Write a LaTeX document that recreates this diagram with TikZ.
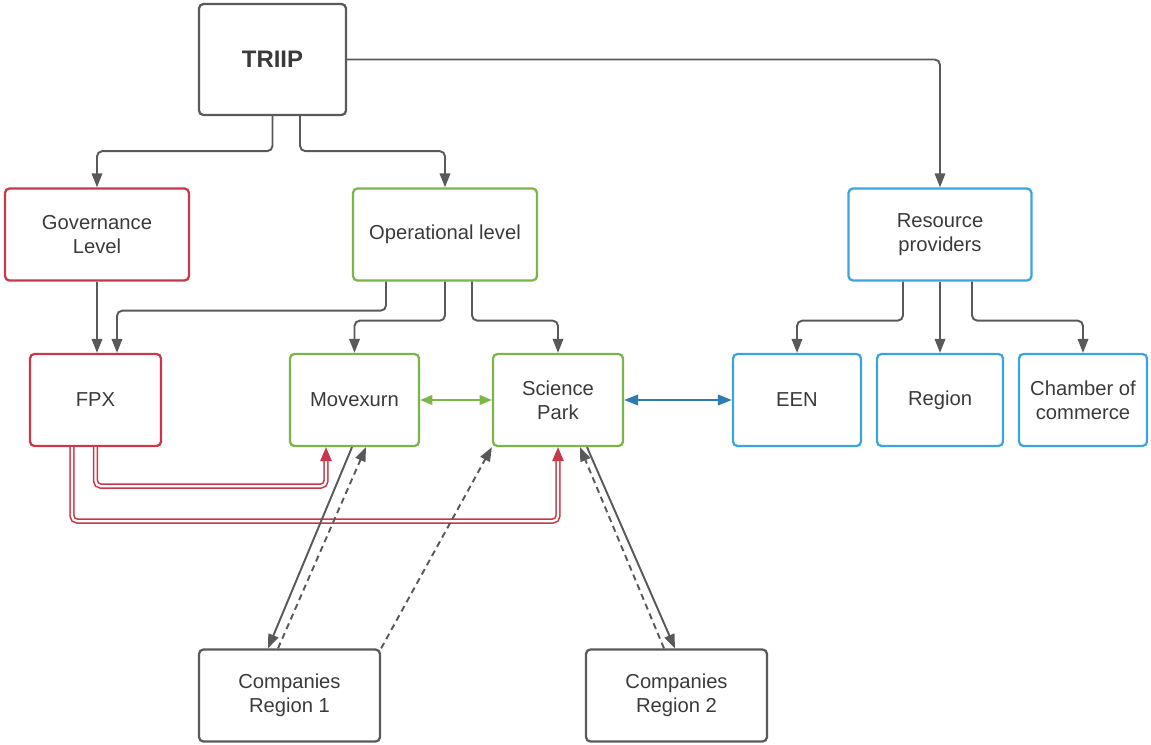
\documentclass[tikz,border=0pt]{standalone}
\usepackage{fontspec}
\setmainfont{Liberation Sans}
\usetikzlibrary{arrows.meta}
\definecolor{boxgrey}{HTML}{5A5A5A}
\definecolor{txtgrey}{HTML}{3A3A3A}
\definecolor{lucred}{HTML}{C8374A}
\definecolor{lucgreen}{HTML}{7AB648}
\definecolor{lucblue}{HTML}{3AA6DD}
\definecolor{arrblue}{HTML}{2F7BB5}
\definecolor{arrgrey}{HTML}{595959}

\begin{document}
\begin{tikzpicture}[x=0.02cm,y=-0.02cm,
  box/.style={draw, rounded corners=2.5pt, line width=1.3pt, align=center, text=txtgrey,
    font=\fontsize{11.5}{13.6}\selectfont, minimum width=2.64cm, minimum height=1.84cm, inner sep=1pt},
  greybox/.style={box, draw=boxgrey},
  redbox/.style={box, draw=lucred},
  greenbox/.style={box, draw=lucgreen},
  bluebox/.style={box, draw=lucblue},
  conn/.style={draw=arrgrey, line width=1.1pt, rounded corners=3pt, -{Triangle[length=8pt,width=6pt]}},
  dconn/.style={conn, dash pattern=on 3.5pt off 2.5pt},
  dbl/.style={draw=lucred, line width=0.9pt, double=white, double distance=1.3pt, rounded corners=3pt,
    -{Triangle[length=8pt,width=6.5pt]}}]
\useasboundingbox (0,0) rectangle (1151,744);
\node[greybox, minimum width=2.94cm, minimum height=2.22cm, font=\fontsize{13.6}{16}\selectfont\bfseries] (triip) at (272.5,59.5) {TRIIP};
\node[redbox, minimum width=3.68cm] (gov) at (97,234.5) {Governance\\Level};
\node[greenbox, minimum width=3.68cm] (op) at (445,234.5) {Operational level};
\node[bluebox, minimum width=3.66cm] (res) at (940,234.5) {Resource\\providers};
\node[redbox, minimum width=2.62cm] (fpx) at (95.5,400) {FPX};
\node[greenbox, minimum width=2.58cm] (mov) at (354.5,400) {Movexurn};
\node[greenbox, minimum width=2.6cm] (sci) at (558,400) {Science\\Park};
\node[bluebox, minimum width=2.56cm] (een) at (797,400) {EEN};
\node[bluebox, minimum width=2.52cm] (reg) at (940,400) {Region};
\node[bluebox, minimum width=2.56cm] (cham) at (1083,400) {Chamber of\\commerce};
\node[greybox, minimum width=3.62cm] (comp1) at (289.5,695.5) {Companies\\Region 1};
\node[greybox, minimum width=3.62cm] (comp2) at (676.5,695.5) {Companies\\Region 2};

\draw[conn] (triip.south) -- ++(0,35) -| (gov.north);
\draw[conn] ([xshift=0.55cm]triip.south) -- ++(0,35) -| (op.north);
\draw[conn] (triip.east) -| (res.north);
\draw[conn] (gov.south) -- (gov.south |- fpx.north);
\draw[conn] ([xshift=-1.18cm]op.south) -- ++(0,29) -| ([xshift=0.43cm]fpx.north);
\draw[conn] (op.south) -- ++(0,39) -| (mov.north);
\draw[conn] ([xshift=0.54cm]op.south) -- ++(0,39) -| (sci.north);
\draw[conn] ([xshift=-0.74cm]res.south) -- ++(0,39) -| (een.north);
\draw[conn] (res.south) -- (reg.north);
\draw[conn] ([xshift=0.64cm]res.south) -- ++(0,39) -| (cham.north);
\draw[draw=lucgreen, line width=1.1pt, {Triangle[length=7pt,width=5.5pt]}-{Triangle[length=7pt,width=5.5pt]}] (mov.east) -- (sci.west);
\draw[draw=arrblue, line width=1.3pt, {Triangle[length=8pt,width=6pt]}-{Triangle[length=8pt,width=6pt]}] (sci.east) -- (een.west);
\draw[dbl] (fpx.south) -- ++(0,39) -| ([xshift=-0.57cm]mov.south);
\draw[dbl] ([xshift=-0.47cm]fpx.south) -- ++(0,74) -| (sci.south);
\draw[conn] ([xshift=-0.05cm]mov.south) -- ([xshift=-0.43cm]comp1.north);
\draw[dconn] ([xshift=-0.23cm]comp1.north) -- ([xshift=0.23cm]mov.south);
\draw[dconn] (comp1.north east) -- (sci.south west);
\draw[conn] ([xshift=0.58cm]sci.south) -- ([xshift=-0.03cm]comp2.north);
\draw[dconn] ([xshift=-0.25cm]comp2.north) -- ([xshift=0.44cm]sci.south);
\end{tikzpicture}
\end{document}
